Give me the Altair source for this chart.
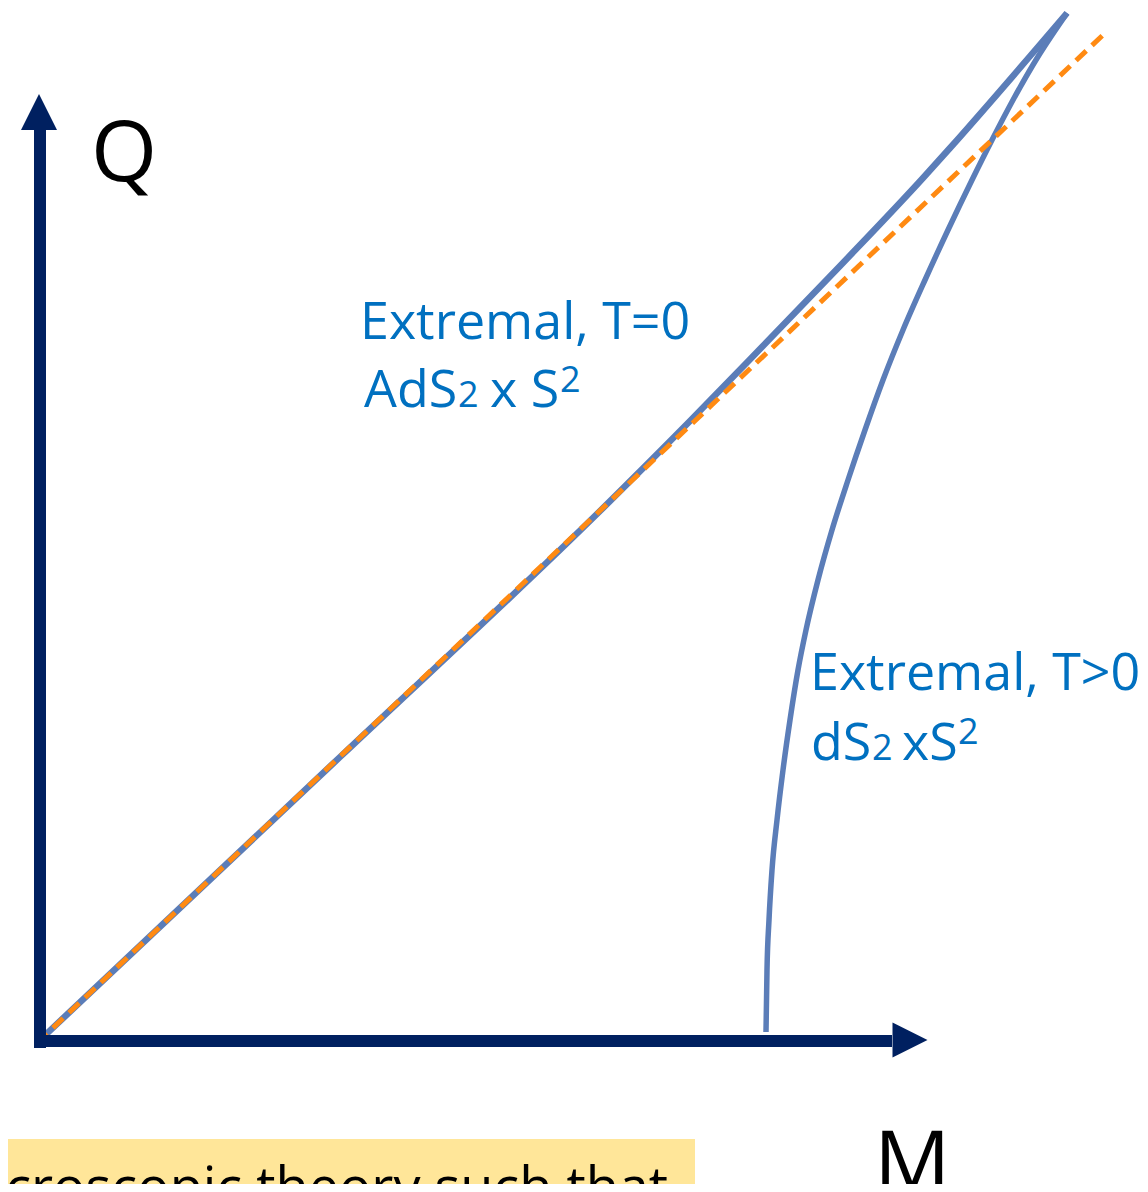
import altair as alt
import pandas as pd

# ---------------- data (M, Q in diagram units) ----------------
# Extremal, T=0 branch (AdS2 x S2): nearly straight, bending up near the tip
ext0_M = [0, 300, 560, 650, 720, 800, 883, 910, 1027]
ext0_Q = [0, 283, 529, 619, 691, 774, 862, 892, 1027]

# dashed orange reference line
ref_M = [-3, 1063]
ref_Q = [-3, 1005]

# Extremal, T>0 branch (dS2 x S2): curve from the M axis up to the tip
curve_M = [726, 727, 729, 732, 737, 743, 750, 758, 766, 778, 792, 808, 825,
           843, 863, 885, 908, 932, 952, 973, 999, 1027]
curve_Q = [8, 70, 120, 170, 220, 270, 320, 370, 410, 460, 510, 560, 610,
           660, 710, 760, 810, 860, 900, 940, 985, 1027]

# axis shafts (start -> end)
shaft_M = [0, 0]
shaft_Q = [-8, -1]
shaft_M2 = [0, 852]
shaft_Q2 = [910, -1]

# arrow heads
head_up_M = [-1]
head_up_Q = [928]
head_right_M = [870]
head_right_Q = [0]

# axis titles
axis_titles = ["Q", "M"]
axis_title_M = [51, 834]
axis_title_Q = [859, -151]

# blue annotation pieces (large)
big_text = ["Extremal, T=0", "AdS", "x S", "Extremal, T>0", "dS", "xS"]
big_M = [320, 324, 450, 770, 771, 862]
big_Q = [701, 633, 633, 350, 280, 280]

# blue annotation pieces (small "2": subscript-size and superscript)
small_text = ["2", "2", "2", "2"]
small_M = [418, 520, 832, 918]
small_Q = [633, 648, 280, 296]

# highlighted (cut-off) caption at the bottom
caption_text = ["croscopic theory such that"]
caption_M = [628]
caption_Q = [-166]
box_M = [-48]
box_M2 = [655]
box_Q = [-99]
box_Q2 = [-175]

# ---------------- chart ----------------
W, H = 1132, 1176
xs = alt.Scale(domain=[-32, 1100], nice=False, zero=False)
ys = alt.Scale(domain=[-144, 1032], nice=False, zero=False)


def X(f="M"):
    return alt.X(f"{f}:Q", scale=xs, axis=None)


def Y(f="Q"):
    return alt.Y(f"{f}:Q", scale=ys, axis=None)


NAVY = "#002060"
LINE_BLUE = "#5B7DB8"
TEXT_BLUE = "#0070C0"
ORANGE = "#FF8A12"
FONT = "Open Sans"

box = alt.Chart(pd.DataFrame({"M": box_M, "M2": box_M2, "Q": box_Q, "Q2": box_Q2})).mark_rect(
    color="#FFE699"
).encode(x=X(), x2="M2:Q", y=Y(), y2="Q2:Q")

caption = alt.Chart(pd.DataFrame({"t": caption_text, "M": caption_M, "Q": caption_Q})).mark_text(
    align="right", baseline="alphabetic", font=FONT, fontSize=54, color="#000000"
).encode(x=X(), y=Y(), text="t:N")

ext0 = alt.Chart(pd.DataFrame({"M": ext0_M, "Q": ext0_Q, "o": list(range(len(ext0_M)))})).mark_line(
    color=LINE_BLUE, strokeWidth=6.5, interpolate="monotone", strokeCap="butt"
).encode(x=X(), y=Y(), order="o:Q")

curve = alt.Chart(pd.DataFrame({"M": curve_M, "Q": curve_Q, "o": list(range(len(curve_M)))})).mark_line(
    color=LINE_BLUE, strokeWidth=5.5, interpolate="monotone", strokeCap="butt"
).encode(x=X(), y=Y(), order="o:Q")

ref = alt.Chart(pd.DataFrame({"M": ref_M, "Q": ref_Q, "o": [0, 1]})).mark_line(
    color=ORANGE, strokeWidth=5, strokeDash=[14, 8]
).encode(x=X(), y=Y(), order="o:Q")

shafts = alt.Chart(pd.DataFrame({"M": shaft_M, "Q": shaft_Q, "M2": shaft_M2, "Q2": shaft_Q2})).mark_rule(
    color=NAVY, strokeWidth=12
).encode(x=X(), y=Y(), x2="M2:Q", y2="Q2:Q")

head_up = alt.Chart(pd.DataFrame({"M": head_up_M, "Q": head_up_Q})).mark_point(
    shape="M0,-1L1,1L-1,1Z", size=1296, filled=True, color=NAVY, opacity=1, strokeWidth=0
).encode(x=X(), y=Y())

head_right = alt.Chart(pd.DataFrame({"M": head_right_M, "Q": head_right_Q})).mark_point(
    shape="M1,0L-1,-1L-1,1Z", size=1225, filled=True, color=NAVY, opacity=1, strokeWidth=0
).encode(x=X(), y=Y())

titles = alt.Chart(pd.DataFrame({"t": axis_titles, "M": axis_title_M, "Q": axis_title_Q})).mark_text(
    align="left", baseline="alphabetic", font=FONT, fontSize=85, color="#000000"
).encode(x=X(), y=Y(), text="t:N")

big = alt.Chart(pd.DataFrame({"t": big_text, "M": big_M, "Q": big_Q})).mark_text(
    align="left", baseline="alphabetic", font=FONT, fontSize=52, color=TEXT_BLUE
).encode(x=X(), y=Y(), text="t:N")

small = alt.Chart(pd.DataFrame({"t": small_text, "M": small_M, "Q": small_Q})).mark_text(
    align="left", baseline="alphabetic", font=FONT, fontSize=36, color=TEXT_BLUE
).encode(x=X(), y=Y(), text="t:N")

chart = alt.layer(
    box, caption, ext0, curve, ref, shafts, head_up, head_right, titles, big, small
).properties(
    width=W, height=H, padding=0, autosize=alt.AutoSizeParams(type="none"), background="#ffffff"
).configure_view(stroke=None, strokeWidth=0)

chart.save("out.html", embed_options={"renderer": "svg", "actions": False})
